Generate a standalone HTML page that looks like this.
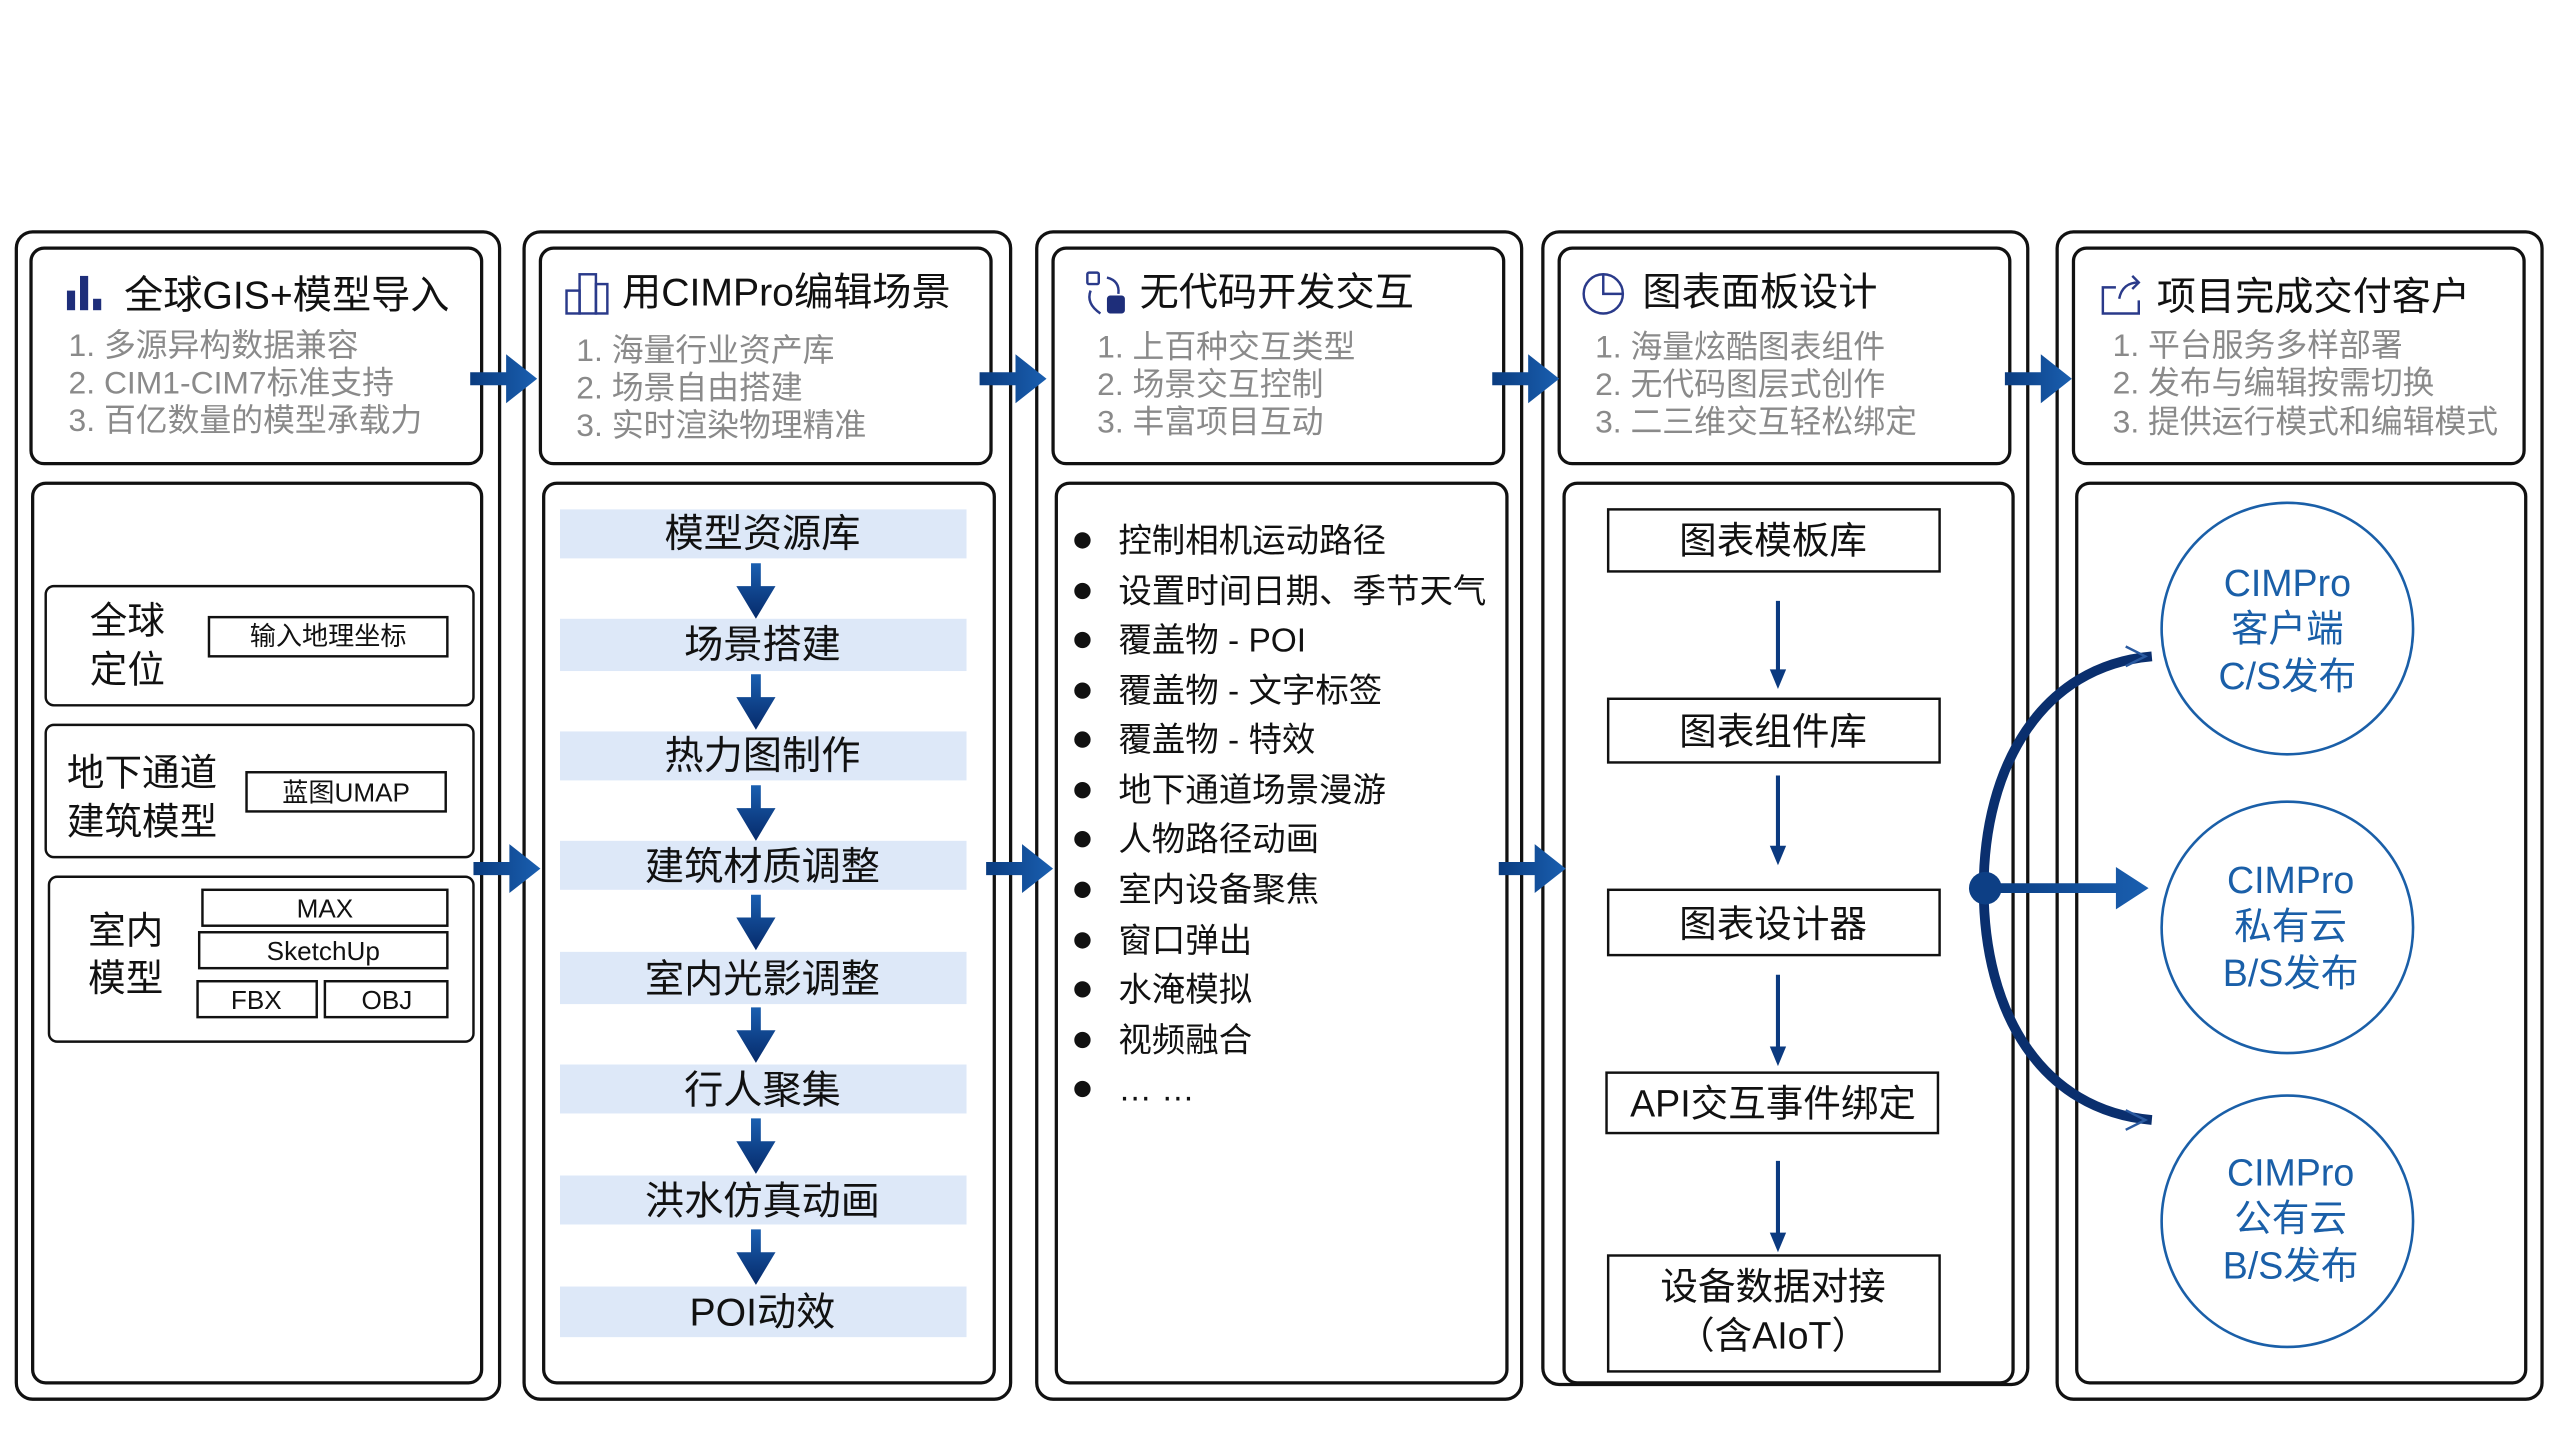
<!DOCTYPE html>
<html><head><meta charset="utf-8"><style>
html,body{margin:0;padding:0;background:#fff;width:2560px;height:1440px;overflow:hidden}
svg{display:block}
text{font-family:"Liberation Sans","Noto Sans CJK SC",sans-serif}
</style></head><body>
<svg width="2560" height="1440" viewBox="0 0 1568 882" preserveAspectRatio="none" xmlns="http://www.w3.org/2000/svg">
<defs>
<linearGradient id="ga" x1="0" y1="0" x2="0" y2="1"><stop offset="0" stop-color="#1a5fb0"/><stop offset="1" stop-color="#062a6a"/></linearGradient>
<linearGradient id="gh" x1="0" y1="0" x2="1" y2="0"><stop offset="0" stop-color="#0a3c80"/><stop offset="1" stop-color="#1a5fb0"/></linearGradient>
</defs>
<g fill="none" stroke="#111" stroke-width="2">
<rect x="10" y="142" width="296" height="715" rx="10"/>
<rect x="321" y="142" width="298" height="715" rx="10"/>
<rect x="635" y="142" width="297" height="715" rx="10"/>
<rect x="945" y="142" width="297" height="706" rx="10"/>
<rect x="1260" y="142" width="297" height="715" rx="10"/>
<rect x="19" y="152" width="276" height="132" rx="8"/>
<rect x="331" y="152" width="276" height="132" rx="8"/>
<rect x="645" y="152" width="276" height="132" rx="8"/>
<rect x="955" y="152" width="276" height="132" rx="8"/>
<rect x="1270" y="152" width="276" height="132" rx="8"/>
<rect x="20" y="296" width="275" height="551" rx="8"/>
<rect x="333" y="296" width="276" height="551" rx="8"/>
<rect x="647" y="296" width="276" height="551" rx="8"/>
<rect x="958" y="296" width="275" height="551" rx="8"/>
<rect x="1272" y="296" width="275" height="551" rx="8"/>
<rect x="28" y="359" width="262" height="73" rx="5" stroke-width="1.5"/>
<rect x="28" y="444" width="262" height="81" rx="5" stroke-width="1.5"/>
<rect x="30" y="537" width="260" height="101" rx="5" stroke-width="1.5"/>
<rect x="128" y="378" width="146" height="24" stroke-width="1.5"/>
<rect x="151" y="473" width="122" height="24" stroke-width="1.5"/>
<rect x="124" y="545" width="150" height="22" stroke-width="1.5"/>
<rect x="122" y="571" width="152" height="22" stroke-width="1.5"/>
<rect x="121" y="601" width="73" height="22" stroke-width="1.5"/>
<rect x="199" y="601" width="75" height="22" stroke-width="1.5"/>
<rect x="985" y="312" width="203" height="38" stroke-width="1.5"/>
<rect x="985" y="428" width="203" height="39" stroke-width="1.5"/>
<rect x="985" y="545" width="203" height="40" stroke-width="1.5"/>
<rect x="984" y="657" width="203" height="37" stroke-width="1.5"/>
<rect x="985" y="769" width="203" height="71" stroke-width="1.5"/>
</g>
<g font-size="24" fill="#111">
<text x="76" y="189">全球GIS+模型导入</text>
<text x="381" y="187">用CIMPro编辑场景</text>
<text x="698" y="187">无代码开发交互</text>
<text x="1006" y="187">图表面板设计</text>
<text x="1321" y="190">项目完成交付客户</text>
</g>
<g font-size="19.5" fill="#8a8a8a">
<text x="42" y="218">1.  多源异构数据兼容</text><text x="42" y="241">2.  CIM1-CIM7标准支持</text><text x="42" y="264">3.  百亿数量的模型承载力</text>
<text x="353" y="221">1.  海量行业资产库</text><text x="353" y="244">2.  场景自由搭建</text><text x="353" y="267">3.  实时渲染物理精准</text>
<text x="672" y="219">1.  上百种交互类型</text><text x="672" y="242">2.  场景交互控制</text><text x="672" y="265">3.  丰富项目互动</text>
<text x="977" y="219">1.  海量炫酷图表组件</text><text x="977" y="242">2.  无代码图层式创作</text><text x="977" y="265">3.  二三维交互轻松绑定</text>
<text x="1294" y="218">1.  平台服务多样部署</text><text x="1294" y="241">2.  发布与编辑按需切换</text><text x="1294" y="265">3.  提供运行模式和编辑模式</text>
</g>
<g fill="#1e2e7a">
<rect x="41" y="178" width="5" height="12"/><rect x="49" y="169" width="5" height="21"/><rect x="57" y="183" width="5" height="7"/>
</g>
<g fill="none" stroke="#2a3a8a" stroke-width="1.5">
<rect x="347" y="178" width="8" height="14"/><rect x="355" y="168" width="10" height="24"/><rect x="365" y="174" width="7" height="18"/>
<rect x="666" y="167" width="7" height="7" rx="1"/><path d="M678 170 q8 2 7 10 M668 178 q-3 8 6 14"/>
<circle cx="982" cy="180" r="12"/><path d="M982 168 v12 h12"/>
<path d="M1296 176 h-8 v16 h22 v-8 M1298 183 q2 -10 12 -10 M1306 169 l4 4 l-4 4"/>
</g>
<rect x="678" y="181" width="11" height="11" rx="2" fill="#1e2e7a"/>
<g fill="url(#gh)">
<path d="M288 228 h22 v-11 l19 15 l-19 15 v-11 h-22z"/>
<path d="M600 228 h22 v-11 l19 15 l-19 15 v-11 h-22z"/>
<path d="M914 228 h22 v-11 l19 15 l-19 15 v-11 h-22z"/>
<path d="M1228 228 h22 v-11 l19 15 l-19 15 v-11 h-22z"/>
<path d="M290 528 h22 v-11 l19 15 l-19 15 v-11 h-22z"/>
<path d="M604 528 h22 v-11 l19 15 l-19 15 v-11 h-22z"/>
<path d="M918 528 h22 v-11 l19 15 l-19 15 v-11 h-22z"/>
</g>
<g fill="#111">
<text x="55" y="388" font-size="23">全球</text><text x="55" y="418" font-size="23">定位</text>
<text x="41" y="481" font-size="23">地下通道</text><text x="41" y="511" font-size="23">建筑模型</text>
<text x="54" y="578" font-size="23">室内</text><text x="54" y="607" font-size="23">模型</text>
<g font-size="16" text-anchor="middle">
<text x="201" y="395">输入地理坐标</text><text x="212" y="491">蓝图UMAP</text>
<text x="199" y="562">MAX</text><text x="198" y="588">SketchUp</text><text x="157" y="618">FBX</text><text x="237" y="618">OBJ</text>
</g>
</g>
<g fill="#dde8f8">
<rect x="343" y="312" width="249" height="30"/><rect x="343" y="379" width="249" height="32"/><rect x="343" y="448" width="249" height="30"/>
<rect x="343" y="515" width="249" height="30"/><rect x="343" y="583" width="249" height="32"/><rect x="343" y="652" width="249" height="30"/>
<rect x="343" y="720" width="249" height="30"/><rect x="343" y="788" width="249" height="31"/>
</g>
<g fill="url(#ga)">
<path d="M460 345 h6 v14 h9 l-12 20 l-12 -20 h9z"/>
<path d="M460 413 h6 v14 h9 l-12 20 l-12 -20 h9z"/>
<path d="M460 481 h6 v14 h9 l-12 20 l-12 -20 h9z"/>
<path d="M460 548 h6 v14 h9 l-12 20 l-12 -20 h9z"/>
<path d="M460 617 h6 v14 h9 l-12 20 l-12 -20 h9z"/>
<path d="M460 685 h6 v14 h9 l-12 20 l-12 -20 h9z"/>
<path d="M460 753 h6 v14 h9 l-12 20 l-12 -20 h9z"/>
</g>
<g font-size="24" fill="#111" text-anchor="middle">
<text x="467" y="335">模型资源库</text><text x="467" y="403">场景搭建</text><text x="467" y="471">热力图制作</text><text x="467" y="539">建筑材质调整</text>
<text x="467" y="608">室内光影调整</text><text x="467" y="676">行人聚集</text><text x="467" y="744">洪水仿真动画</text><text x="467" y="812">POI动效</text>
</g>
<g fill="#111">
<circle cx="663" cy="331" r="5"/><circle cx="663" cy="362" r="5"/><circle cx="663" cy="392" r="5"/><circle cx="663" cy="423" r="5"/>
<circle cx="663" cy="453" r="5"/><circle cx="663" cy="484" r="5"/><circle cx="663" cy="514" r="5"/><circle cx="663" cy="545" r="5"/>
<circle cx="663" cy="576" r="5"/><circle cx="663" cy="606" r="5"/><circle cx="663" cy="637" r="5"/><circle cx="663" cy="667" r="5"/>
<g font-size="20.5">
<text x="685" y="338">控制相机运动路径</text><text x="685" y="369">设置时间日期、季节天气</text><text x="685" y="399">覆盖物 - POI</text><text x="685" y="430">覆盖物 - 文字标签</text>
<text x="685" y="460">覆盖物 - 特效</text><text x="685" y="491">地下通道场景漫游</text><text x="685" y="521">人物路径动画</text><text x="685" y="552">室内设备聚焦</text>
<text x="685" y="583">窗口弹出</text><text x="685" y="613">水淹模拟</text><text x="685" y="644">视频融合</text><text x="685" y="674">… …</text>
</g>
</g>
<g stroke="#0b3a80" stroke-width="2.5"><line x1="1089" y1="368" x2="1089" y2="412"/><line x1="1089" y1="475" x2="1089" y2="520"/><line x1="1089" y1="597" x2="1089" y2="643"/><line x1="1089" y1="711" x2="1089" y2="757"/></g>
<g fill="#0b3a80"><path d="M1084 410 h10 l-5 12z"/><path d="M1084 518 h10 l-5 12z"/><path d="M1084 641 h10 l-5 12z"/><path d="M1084 755 h10 l-5 12z"/></g>
<g font-size="23" fill="#111" text-anchor="middle">
<text x="1086" y="339">图表模板库</text><text x="1086" y="456">图表组件库</text><text x="1086" y="574">图表设计器</text><text x="1086" y="684">API交互事件绑定</text>
<text x="1086" y="796">设备数据对接</text><text x="1086" y="826">（含AIoT）</text>
</g>
<g fill="none" stroke="#1a5fa8" stroke-width="1.6">
<circle cx="1401" cy="385" r="77"/><circle cx="1401" cy="568" r="77"/><circle cx="1401" cy="748" r="77"/>
</g>
<g font-size="23" fill="#1a5fa8" text-anchor="middle">
<text x="1401" y="365">CIMPro</text><text x="1401" y="393">客户端</text><text x="1401" y="422">C/S发布</text>
<text x="1403" y="547">CIMPro</text><text x="1403" y="575">私有云</text><text x="1403" y="604">B/S发布</text>
<text x="1403" y="726">CIMPro</text><text x="1403" y="754">公有云</text><text x="1403" y="783">B/S发布</text>
</g>
<path d="M1318 402 C1250 408 1215 470 1215 544 C1215 620 1250 680 1318 686" fill="none" stroke="#0a2f6e" stroke-width="6"/>
<path d="M1302 396 l12 6 l-12 6 M1302 680 l12 6 l-12 6" fill="none" stroke="#2a5aa0" stroke-width="1.5"/>
<path d="M1216 541 h80 v-10 l20 13 l-20 13 v-10 h-80z" fill="url(#gh)"/>
<ellipse cx="1216" cy="544" rx="10" ry="10" fill="#0d3f85"/>
</svg>
</body></html>
